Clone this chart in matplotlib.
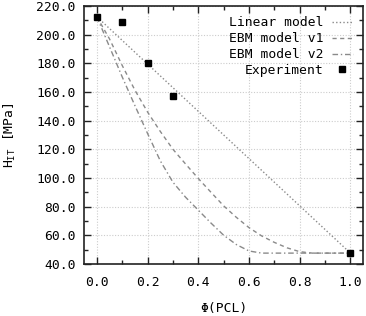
import matplotlib
matplotlib.use("Agg")
import matplotlib.pyplot as plt
from matplotlib.ticker import MultipleLocator

# values
phi_exp = [0.0, 0.1, 0.2, 0.3, 1.0]
h_exp = [212.5, 209.0, 180.5, 157.3, 47.5]

phi_lin = [0.0, 1.0]
h_lin = [212.5, 47.5]

phi_v1 = [0.0, 0.05, 0.1, 0.15, 0.2, 0.25, 0.3, 0.35, 0.4, 0.45, 0.5,
          0.55, 0.6, 0.65, 0.7, 0.75, 0.8, 0.85, 1.0]
h_v1 = [212.5, 197.0, 178.5, 161.3, 146.0, 132.5, 120.0, 109.7, 99.6, 90.0,
        80.5, 72.5, 65.3, 59.5, 55.0, 51.2, 48.5, 47.5, 47.5]

phi_v2 = [0.0, 0.05, 0.1, 0.15, 0.2, 0.25, 0.3, 0.35, 0.4, 0.45, 0.5,
          0.55, 0.6, 0.65, 1.0]
h_v2 = [212.5, 191.5, 170.5, 150.5, 131.0, 112.0, 97.0, 86.5, 77.5, 68.5,
        60.0, 53.5, 49.0, 47.5, 47.5]

plt.rcParams['font.family'] = ['DejaVu Sans Mono']
plt.rcParams['mathtext.fontset'] = 'custom'
plt.rcParams['mathtext.rm'] = 'DejaVu Sans Mono'
plt.rcParams['font.size'] = 9.4

fig = plt.figure(figsize=(3.66, 3.16), dpi=100)
ax = fig.add_axes([0.230, 0.165, 0.762, 0.816])

line_col = '#8a8a8a'
ax.plot(phi_lin, h_lin, color=line_col, lw=1.0, ls=(0, (1, 1.6)), label='Linear model')
ax.plot(phi_v1, h_v1, color=line_col, lw=1.0, ls=(0, (3, 2.5)), label='EBM model v1')
ax.plot(phi_v2, h_v2, color=line_col, lw=1.0, ls=(0, (4, 2, 1, 2)), label='EBM model v2')
ax.plot(phi_exp, h_exp, 's', color='black', ms=4.3, ls='none', label='Experiment')

ax.set_xlim(-0.05, 1.05)
ax.set_ylim(40, 220)
ax.xaxis.set_major_locator(MultipleLocator(0.2))
ax.xaxis.set_minor_locator(MultipleLocator(0.1))
ax.yaxis.set_major_locator(MultipleLocator(20))
ax.yaxis.set_minor_locator(MultipleLocator(10))
ax.xaxis.set_major_formatter(matplotlib.ticker.FormatStrFormatter('%.1f'))
ax.yaxis.set_major_formatter(matplotlib.ticker.FormatStrFormatter('%.1f'))

ax.tick_params(which='both', direction='in', top=True, right=True, width=1.0, color='#222222')
ax.tick_params(which='major', length=5)
ax.tick_params(axis='x', which='major', pad=9)
ax.tick_params(axis='y', which='major', pad=6)
ax.tick_params(which='minor', length=3)
for s in ax.spines.values():
    s.set_linewidth(1.2)
    s.set_color('#222222')

ax.grid(True, which='major', color='#cccccc', ls=(0, (1, 1.5)), lw=0.8)

ax.set_xlabel('Φ(PCL)', labelpad=9)
ax.set_ylabel(r'H$_{\mathrm{IT}}$ [MPa]', labelpad=13)

ax.legend(loc='upper right', frameon=False, markerfirst=False, handlelength=1.6,
          handletextpad=0.6, labelspacing=0.22, borderaxespad=0.4, numpoints=1)

fig.savefig('out.png', dpi=100)
